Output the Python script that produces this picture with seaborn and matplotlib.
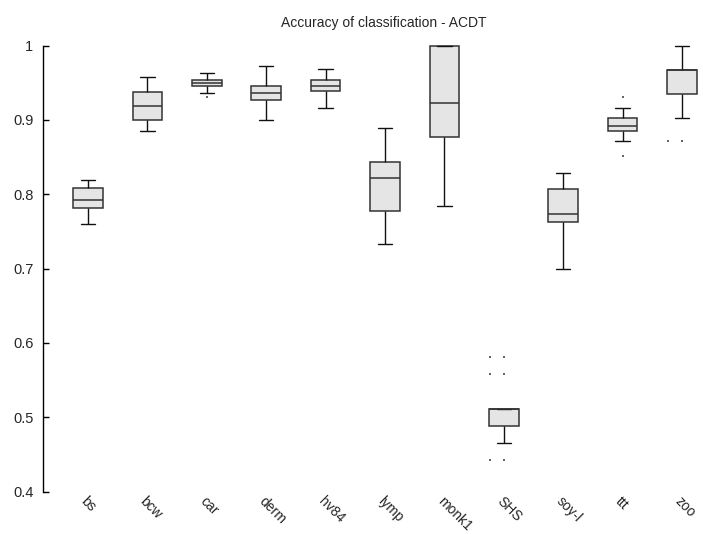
import numpy as np
import pandas as pd
import matplotlib
matplotlib.use("Agg")
import matplotlib.pyplot as plt
import seaborn as sns

categories = ["bs", "bcw", "car", "derm", "hv84", "lymp", "monk1", "SHS", "soy-l", "ttt", "zoo"]
whisker_low = [0.760, 0.885, 0.936, 0.900, 0.916, 0.733, 0.784, 0.465, 0.699, 0.871, 0.903]
q1 = [0.782, 0.900, 0.946, 0.927, 0.939, 0.778, 0.877, 0.489, 0.763, 0.885, 0.935]
median = [0.792, 0.919, 0.950, 0.936, 0.946, 0.822, 0.923, 0.511, 0.774, 0.892, 0.967]
q3 = [0.808, 0.938, 0.954, 0.945, 0.954, 0.844, 1.000, 0.511, 0.807, 0.903, 0.967]
whisker_high = [0.819, 0.957, 0.963, 0.972, 0.969, 0.889, 1.000, 0.511, 0.828, 0.916, 1.000]

outlier_cat = ["car", "SHS", "SHS", "SHS", "SHS", "SHS", "SHS", "ttt", "ttt", "zoo", "zoo"]
outlier_val = [0.931, 0.581, 0.581, 0.558, 0.558, 0.442, 0.442, 0.931, 0.851, 0.871, 0.871]

y_ticks = [0.4, 0.5, 0.6, 0.7, 0.8, 0.9, 1.0]
y_tick_labels = ["0.4", "0.5", "0.6", "0.7", "0.8", "0.9", "1"]
title = "Accuracy of classification - ACDT"

sns.set_theme(style="white")
plt.rcParams["font.family"] = ["Liberation Sans", "DejaVu Sans"]

rows = []
for i, c in enumerate(categories):
    for v in (whisker_low[i], q1[i], median[i], q3[i], whisker_high[i]):
        rows.append({"dataset": c, "accuracy": v})
df = pd.DataFrame(rows)

fig = plt.figure(figsize=(7.03, 5.34), dpi=100)
ax = fig.add_axes([43 / 703, 1 - 491.7 / 534, 1 - 43 / 703, (491.7 - 45.5) / 534])

sns.boxplot(data=df, x="dataset", y="accuracy", order=categories, whis=(0, 100),
            showfliers=False, width=0.5, color="#e5e5e5", linecolor="#333333",
            linewidth=1.1, ax=ax,
            medianprops=dict(color="#333333", linewidth=1.1),
            whiskerprops=dict(color="#111111", linewidth=1.0),
            capprops=dict(color="#111111", linewidth=1.0),
            capwidths=0.24)

# outliers: duplicates are spread horizontally
pos = {c: i for i, c in enumerate(categories)}
seen = {}
ox = []
for c, v in zip(outlier_cat, outlier_val):
    k = seen.get((c, v), 0)
    seen[(c, v)] = k + 1
    ox.append(pos[c] - 0.24 * k)
sns.scatterplot(x=ox, y=outlier_val, ax=ax, marker="s", s=2.0, color="#666666",
                linewidth=0, legend=False)

ax.set_xlim(-0.758, 10.354)
ax.set_ylim(0.4, 1.0)
ax.set_yticks(y_ticks)
ax.set_yticklabels(y_tick_labels)
ax.set_xticks(range(len(categories)))
ax.set_xticklabels(categories, rotation=-45, ha="left", va="top", rotation_mode="anchor")
ax.tick_params(axis="y", direction="in", length=4.5, width=1, color="black",
               pad=7, labelsize=10.5, left=True)
ax.tick_params(axis="x", length=0, pad=2, labelsize=10)
for s in ["top", "right", "bottom"]:
    ax.spines[s].set_visible(False)
ax.spines["left"].set_color("black")
ax.spines["left"].set_linewidth(1.0)
ax.set_xlabel("")
ax.set_ylabel("")
fig.text(384 / 703, 1 - 23 / 534, title, ha="center", va="center", fontsize=10)

fig.savefig("out.png", dpi=100, facecolor="white")
